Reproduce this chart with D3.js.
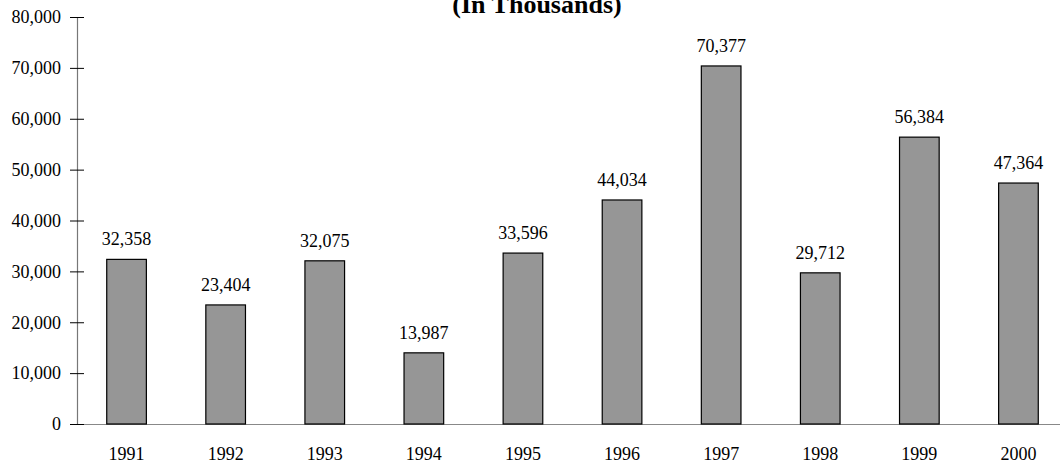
<!DOCTYPE html>
<meta charset="utf-8">
<html>
<style>
body { margin: 0; background: #fff; }
text { font-family: "Liberation Serif", "Times New Roman", serif; fill: #000; }
.title { font-size: 26px; font-weight: bold; text-anchor: middle; }
.val { font-size: 18px; text-anchor: middle; }
.tick text { font-size: 18px; }
</style>
<svg width="1060" height="463"></svg>
<script src="https://d3js.org/d3.v7.min.js"></script>
<script>
var years = ["1991", "1992", "1993", "1994", "1995", "1996", "1997", "1998", "1999", "2000"];
var values = [32358, 23404, 32075, 13987, 33596, 44034, 70377, 29712, 56384, 47364];
var yTicks = [0, 10000, 20000, 30000, 40000, 50000, 60000, 70000, 80000];

var svg = d3.select("svg");
var plotLeft = 77, plotBottom = 424, plotTop = 17;

var x = d3.scaleBand()
    .domain(years)
    .range([plotLeft, 1068])
    .paddingInner(0.6)
    .paddingOuter(0.3);

var y = d3.scaleLinear()
    .domain([0, 80000])
    .range([plotBottom, plotTop]);

var fmt = d3.format(",");

svg.append("text")
    .attr("class", "title")
    .attr("x", 537)
    .attr("y", 13)
    .text("(In Thousands)");

// x axis
var xAxis = svg.append("g")
    .attr("transform", "translate(0," + plotBottom + ")")
    .call(d3.axisBottom(x).tickSize(0).tickPadding(24));
xAxis.select(".domain").attr("d", "M" + plotLeft + ",0.5H1060").attr("stroke", "#888").attr("stroke-width", 1.2);
xAxis.selectAll(".tick text").attr("font-size", 18).attr("font-family", null).attr("dy", 0).attr("y", 36);

// bars
svg.append("g")
  .selectAll("rect")
  .data(values)
  .join("rect")
    .attr("x", (d, i) => x(years[i]))
    .attr("y", d => y(d))
    .attr("width", x.bandwidth())
    .attr("height", d => plotBottom - y(d))
    .attr("fill", "#969696")
    .attr("stroke", "#000")
    .attr("stroke-width", 1.2);

svg.append("g")
  .selectAll("text")
  .data(values)
  .join("text")
    .attr("class", "val")
    .attr("x", (d, i) => x(years[i]) + x.bandwidth() / 2)
    .attr("y", d => y(d) - 14)
    .text(d => fmt(d));

// y axis
var yAxis = svg.append("g")
    .attr("transform", "translate(" + plotLeft + ",0)")
    .call(d3.axisLeft(y).tickValues(yTicks).tickFormat(fmt).tickSize(7).tickPadding(9));
yAxis.select(".domain").attr("stroke", "#777").attr("stroke-width", 1.2);
yAxis.selectAll(".tick line").attr("x2", 7).attr("x1", -7).attr("stroke", "#000");
yAxis.selectAll(".tick text").attr("font-size", 18).attr("font-family", null);
</script>
</html>
